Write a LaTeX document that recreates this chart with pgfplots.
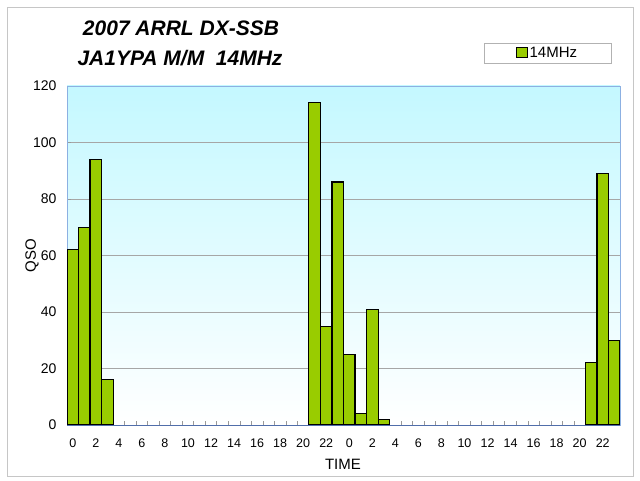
\documentclass[border=0pt]{standalone}
\usepackage{pgfplots}
\pgfplotsset{compat=1.18}
\usepackage{pgfplotstable}
\usepackage{fontspec}
\setmainfont{Liberation Sans}
\definecolor{barg}{RGB}{153,204,0}
\definecolor{topc}{RGB}{196,248,255}
\definecolor{axblue}{RGB}{140,176,226}
\definecolor{botax}{RGB}{80,110,170}
\pgfplotstableread{
h q
0 62
1 70
2 94
3 16
4 0
5 0
6 0
7 0
8 0
9 0
10 0
11 0
12 0
13 0
14 0
15 0
16 0
17 0
18 0
19 0
20 0
21 114
22 35
23 86
24 25
25 4
26 41
27 2
28 0
29 0
30 0
31 0
32 0
33 0
34 0
35 0
36 0
37 0
38 0
39 0
40 0
41 0
42 0
43 0
44 0
45 22
46 89
47 30
}\qsodata
\begin{document}
\begin{tikzpicture}
\path (0pt,0pt) rectangle (640pt,480pt);
\draw[gray!45] (7pt,4pt) rectangle (633pt,473pt);
\node[font=\fontsize{21}{24}\selectfont\bfseries\itshape, anchor=base] at (181pt,444pt) {2007 ARRL DX-SSB};
\node[font=\fontsize{21}{24}\selectfont\bfseries\itshape, anchor=base] at (180pt,414pt) {JA1YPA M/M\ \ 14MHz};
\begin{axis}[
  at={(67pt,55pt)}, anchor=south west, scale only axis,
  width=553pt, height=339pt,
  xmin=-0.5, xmax=47.5, ymin=0, ymax=120,
  axis background/.style={top color=topc, bottom color=white},
  axis line style={axblue},
  xtick pos=bottom, ytick pos=left,
  xtick={0,2,...,46},
  xticklabels={0,2,4,6,8,10,12,14,16,18,20,22,0,2,4,6,8,10,12,14,16,18,20,22},
  major x tick style={draw=none},
  minor xtick={-0.5,0.5,...,47.5},
  minor tick length=4pt,
  tick align=inside,
  tick style={color=gray!80, line width=0.6pt},
  ytick={0,20,...,120},
  major tick length=4pt,
  ymajorgrids,
  grid style={gray!70, line width=0.4pt},
  /pgf/number format/assume math mode=true,
  xticklabel style={font=\fontsize{12.5}{14}\selectfont, yshift=-10pt},
  yticklabel style={font=\fontsize{14}{16}\selectfont, xshift=-7pt},
  xlabel={TIME}, ylabel={QSO},
  label style={font=\fontsize{15}{17}\selectfont},
  xlabel style={at={(axis description cs:0.499,-0.115)}, anchor=center},
  ylabel style={at={(axis description cs:-0.0633,0.5)}, anchor=center},
  legend style={at={(0.869,1.096)}, anchor=center, draw=gray!60,
    inner xsep=32pt, inner ysep=2pt, font=\fontsize{15}{17}\selectfont},
  legend image code/.code={\draw[fill=barg,draw=black,line width=0.6pt] (0pt,-4pt) rectangle (11pt,6pt);},
]
\addplot[ybar, bar width=1, bar shift=0pt, fill=barg, draw=black, line width=1.1pt,
  y filter/.expression={y==0 ? nan : y}] table[x=h,y=q] {\qsodata};
\addlegendentry{14MHz}
\draw[botax, line width=0.8pt] (rel axis cs:0,0) -- (rel axis cs:1,0);
\end{axis}
\end{tikzpicture}
\end{document}
